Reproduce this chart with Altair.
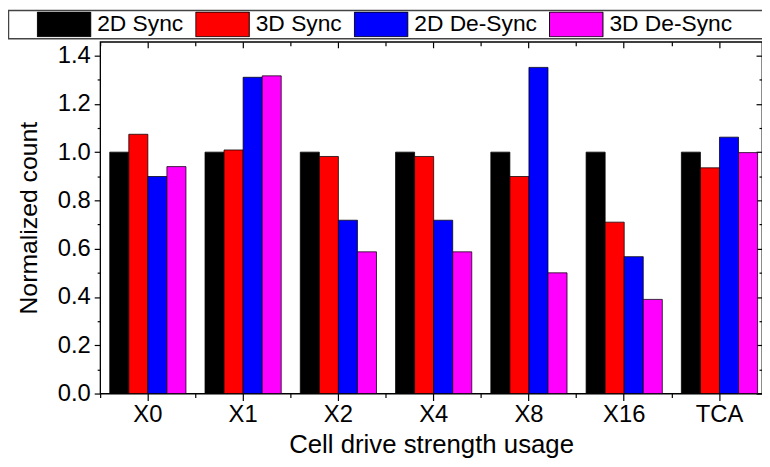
import altair as alt
import pandas as pd

categories = ["X0", "X1", "X2", "X4", "X8", "X16", "TCA"]
series = ["2D Sync", "3D Sync", "2D De-Sync", "3D De-Sync"]
sync_2d = [1.0, 1.0, 1.0, 1.0, 1.0, 1.0, 1.0]
sync_3d = [1.074, 1.009, 0.982, 0.982, 0.899, 0.710, 0.935]
desync_2d = [0.899, 1.310, 0.718, 0.718, 1.351, 0.567, 1.062]
desync_3d = [0.940, 1.316, 0.587, 0.587, 0.500, 0.390, 0.998]
colors = ["#000000", "#FF0000", "#0000FF", "#FF00FF"]
y_major = [0.0, 0.2, 0.4, 0.6, 0.8, 1.0, 1.2, 1.4]
y_minor = [0.1, 0.3, 0.5, 0.7, 0.9, 1.1, 1.3]

rows = []
for s, vals in zip(series, [sync_2d, sync_3d, desync_2d, desync_3d]):
    for c, v in zip(categories, vals):
        rows.append({"cat": c, "series": s, "value": v})
df = pd.DataFrame(rows)

W, H = 668, 355
FONT = "Liberation Sans"

def xs():
    return alt.Scale(domain=categories, paddingInner=0.2, paddingOuter=0.0735, align=0.685)

def ys():
    return alt.Scale(domain=[0, 1.457], nice=False, zero=True)

base = alt.Chart(df)

bars = base.mark_bar(stroke="black", strokeWidth=1, strokeOpacity=0.75).encode(
    x=alt.X("cat:N", sort=categories, scale=xs(),
            axis=alt.Axis(orient="bottom", title="Cell drive strength usage", bandPosition=0.5,
                          tickSize=7, labelPadding=2, domain=False, labelAngle=0,
                          labelFontSize=24, titleFontSize=26, titlePadding=6)),
    xOffset=alt.XOffset("series:N", sort=series, scale=alt.Scale(paddingInner=0, paddingOuter=0)),
    y=alt.Y("value:Q", scale=ys(),
            axis=alt.Axis(orient="left", title="Normalized count", values=y_major, format=".1f",
                          tickSize=6, labelPadding=4, domain=False, labelFontSize=24,
                          titleFontSize=25, titlePadding=16)),
    color=alt.Color("series:N", sort=series, scale=alt.Scale(domain=series, range=colors),
                    legend=alt.Legend(orient="none", legendX=-64, legendY=-30.5, direction="horizontal",
                                      columns=4, title=None, symbolType="M-1,-0.463H1V0.463H-1Z",
                                      symbolSize=2916, symbolStrokeColor="black", symbolStrokeWidth=1,
                                      symbolOpacity=1, clipHeight=26, labelFontSize=23, labelOffset=6,
                                      columnPadding=12, labelFont=FONT, labelColor="black", padding=0)),
)

minor = base.mark_bar(opacity=0).encode(
    x=alt.X("cat:N", sort=categories, scale=xs(),
            axis=alt.Axis(orient="bottom", bandPosition=-0.125, labels=False, tickSize=4,
                          domain=False, title=None)),
    y=alt.Y("value:Q", scale=ys(),
            axis=alt.Axis(orient="left", values=y_minor, labels=False, tickSize=3,
                          domain=False, title=None)),
)

mirror = base.mark_bar(opacity=0).encode(
    x=alt.X("cat:N", sort=categories, scale=xs(),
            axis=alt.Axis(orient="bottom", offset=-H, bandPosition=0.5, labels=False, tickSize=6,
                          domain=False, title=None)),
    y=alt.Y("value:Q", scale=ys(),
            axis=alt.Axis(orient="left", offset=-W, values=y_major, labels=False, tickSize=6,
                          domain=False, title=None)),
)

mirror_minor = base.mark_bar(opacity=0).encode(
    x=alt.X("cat:N", sort=categories, scale=xs(),
            axis=alt.Axis(orient="bottom", offset=-H, bandPosition=-0.125, labels=False, tickSize=4,
                          domain=False, title=None)),
    y=alt.Y("value:Q", scale=ys(),
            axis=alt.Axis(orient="left", offset=-W, values=y_minor, labels=False, tickSize=3,
                          domain=False, title=None)),
)

frame = alt.Chart(alt.Data(values=[{"k": 1}])).mark_rect(
    filled=False, stroke="#444444", strokeWidth=1.5
).encode(x=alt.value(-92.5), x2=alt.value(700), y=alt.value(-31.5), y2=alt.value(-3))

chart = alt.layer(bars, minor, mirror, mirror_minor, frame).resolve_axis(
    x="independent", y="independent"
).properties(
    width=W, height=H,
    autosize=alt.AutoSizeParams(type="none"),
    padding={"left": 93, "top": 32, "right": 0, "bottom": 70},
).configure_view(
    stroke="black", strokeWidth=1.3
).configure_axis(
    labelFont=FONT, titleFont=FONT, labelColor="black", titleColor="black",
    tickColor="black", tickWidth=1.2, titleFontWeight="normal", grid=False
)

chart.save("out.html", embed_options={"renderer": "svg", "actions": False})
